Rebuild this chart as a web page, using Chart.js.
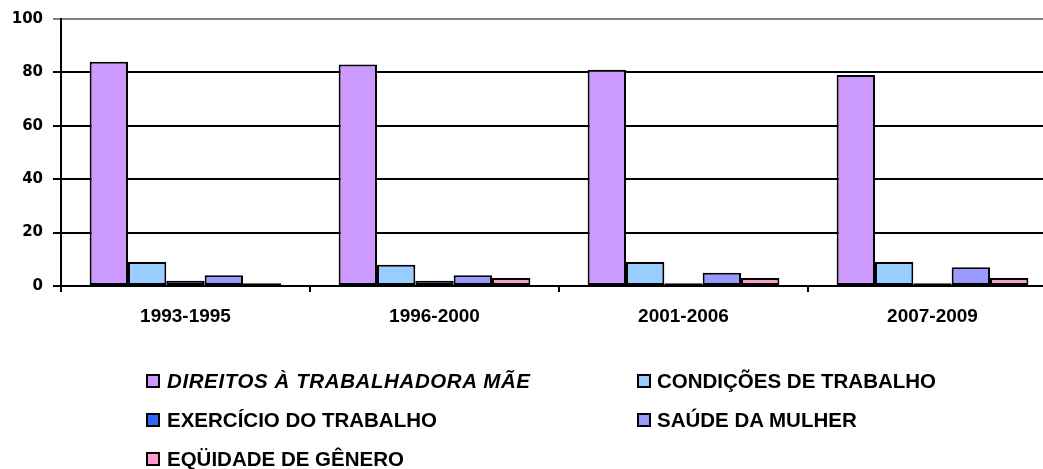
<!DOCTYPE html>
<html>
<head>
<meta charset="utf-8">
<script src="https://cdn.jsdelivr.net/npm/chart.js@4.4.1/dist/chart.umd.min.js"></script>
<style>
  html, body { margin: 0; padding: 0; background: #fff; overflow: hidden; width: 1043px; height: 469px; }
  #wrap { position: relative; width: 1043px; height: 469px; overflow: hidden; }
  canvas { position: absolute; left: 0; top: 0; }
  .leg { position: absolute; font: bold 20.5px "Liberation Sans", Arial, sans-serif; color: #000; white-space: nowrap; line-height: 24px; }
  .box { position: absolute; width: 10px; height: 10px; border: 2px solid #000; }
</style>
</head>
<body>
<div id="wrap">
  <canvas id="c" width="1060" height="469"></canvas>
  <div id="legend"></div>
</div>
<script>
const categories = ["1993-1995", "1996-2000", "2001-2006", "2007-2009"];
const seriesNames = ["DIREITOS À TRABALHADORA MÃE", "CONDIÇÕES DE TRABALHO", "EXERCÍCIO DO TRABALHO", "SAÚDE DA MULHER", "EQÜIDADE DE GÊNERO"];
const direitos = [84, 83, 81, 79];
const condicoes = [9, 8, 9, 9];
const exercicio = [2, 2, 1, 1];
const saude = [4, 4, 5, 7];
const equidade = [1, 3, 3, 3];
const yTicks = [0, 20, 40, 60, 80, 100];

const colors = ["#CC99FF", "#99CCFF", "#3366FF", "#9999FF", "#FF99CC"];
const values = [direitos, condicoes, exercicio, saude, equidade];

const datasets = values.map((v, i) => ({
  label: seriesNames[i],
  data: v,
  backgroundColor: colors[i],
  borderColor: "#000",
  borderWidth: 2,
  borderSkipped: false,
  barPercentage: 1.0,
  categoryPercentage: 0.77
}));

new Chart(document.getElementById("c"), {
  type: "bar",
  data: { labels: categories, datasets },
  options: {
    responsive: false,
    animation: false,
    layout: { padding: { top: 18, right: 3, left: 0, bottom: 0 } },
    plugins: { legend: { display: false }, tooltip: { enabled: false } },
    scales: {
      x: {
        grid: { display: true, drawOnChartArea: false, offset: true, color: "#000", lineWidth: 2, tickLength: 6 },
        border: { display: true, color: "#000", width: 2 },
        ticks: { color: "#000", font: { family: "'Liberation Sans', Arial, sans-serif", size: 19, weight: "bold" }, padding: 13, maxRotation: 0 },
        afterFit: (s) => { s.height = 469 - 286; }
      },
      y: {
        min: 0, max: 100,
        afterBuildTicks: (s) => { s.ticks = yTicks.map(v => ({ value: v })); },
        grid: {
          color: (ctx) => (ctx.tick && ctx.tick.value === 100) ? "#808080" : "#000",
          lineWidth: 2, tickLength: 8
        },
        border: { display: true, color: "#000", width: 2 },
        ticks: { color: "#000", font: { family: "'DejaVu Sans', sans-serif", size: 15, weight: "bold" }, padding: 10 },
        afterFit: (s) => { s.width = 61; }
      }
    }
  }
});

// HTML legend built from the series names and colours
const legendPos = [
  { box: 146, text: 167, cy: 381 }, { box: 637, text: 657, cy: 381 },
  { box: 146, text: 167, cy: 420 }, { box: 637, text: 657, cy: 420 },
  { box: 146, text: 167, cy: 459 }
];
const legend = document.getElementById("legend");
seriesNames.forEach((name, i) => {
  const p = legendPos[i];
  const b = document.createElement("div");
  b.className = "box";
  b.style.left = p.box + "px";
  b.style.top = (p.cy - 7) + "px";
  b.style.background = colors[i];
  legend.appendChild(b);
  const d = document.createElement("div");
  d.className = "leg";
  d.style.left = p.text + "px";
  d.style.top = (p.cy - 12) + "px";
  if (i === 0) { d.style.fontStyle = "italic"; d.style.letterSpacing = "0.6px"; }
  d.textContent = name;
  legend.appendChild(d);
});
</script>
</body>
</html>
